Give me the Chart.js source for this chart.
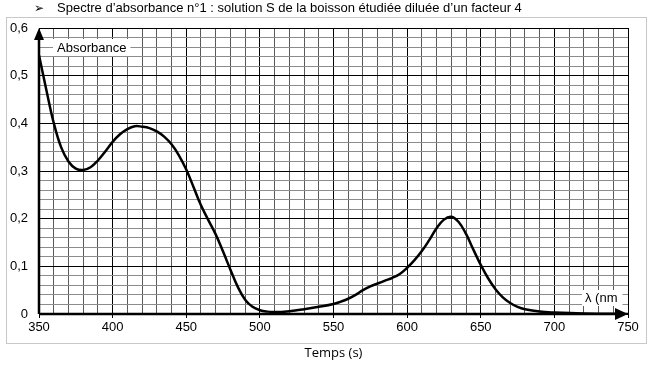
<!DOCTYPE html>
<html>
<head>
<meta charset="utf-8">
<script src="https://cdn.jsdelivr.net/npm/chart.js@4.4.0/dist/chart.umd.min.js"></script>
<style>
  body { margin: 0; background: #fff; }
  #wrap { position: relative; width: 651px; height: 370px; }
  #title {
    position: absolute; left: 34px; top: 0px; line-height: 15px;
    font: 13px "Liberation Sans", "DejaVu Sans", sans-serif; color: #000;
    white-space: nowrap;
  }
  #title .mark { display: inline-block; width: 23px; font-family: "DejaVu Sans", sans-serif; font-size: 12px; }
</style>
</head>
<body>
<div id="wrap">
  <canvas id="chart"></canvas>
  <div id="title"><span class="mark">&#10146;</span>Spectre d’absorbance n°1 : solution S de la boisson étudiée diluée d’un facteur 4</div>
</div>
<script>
// wavelength (nm) and absorbance
const wavelengths = [350, 355, 360, 365, 370, 375, 380, 385, 390, 395, 400, 405, 410, 415, 420, 425, 430, 435, 440, 445,
  450, 455, 460, 465, 470, 475, 480, 485, 490, 495, 500, 505, 510, 520, 530, 540, 550, 555, 560, 565,
  570, 575, 580, 585, 590, 595, 600, 605, 610, 615, 620, 625, 630, 635, 640, 645, 650, 655, 660, 665,
  670, 675, 680, 690, 700, 720, 750];
const absorbance = [0.543, 0.470, 0.401, 0.350, 0.320, 0.305, 0.302, 0.308, 0.322, 0.341, 0.361, 0.377, 0.388, 0.394, 0.393, 0.390, 0.383, 0.372, 0.356, 0.333,
  0.303, 0.266, 0.228, 0.197, 0.167, 0.131, 0.093, 0.057, 0.030, 0.015, 0.008, 0.005, 0.004, 0.006, 0.010, 0.015, 0.021, 0.026, 0.032, 0.040,
  0.050, 0.058, 0.064, 0.070, 0.076, 0.084, 0.097, 0.113, 0.132, 0.155, 0.180, 0.198, 0.204, 0.193, 0.168, 0.135, 0.103, 0.075, 0.052, 0.035,
  0.023, 0.015, 0.010, 0.005, 0.003, 0.001, 0.000];

const yLabel = 'Absorbance';
const xLabel = 'λ (nm';
const xAxisTitle = 'Temps (s)';

const points = wavelengths.map((w, i) => ({ x: w, y: absorbance[i] }));

const decorations = {
  id: 'decorations',
  beforeDraw(chart) {
    const ctx = chart.ctx;
    ctx.save();
    ctx.strokeStyle = '#c8c8c8';
    ctx.lineWidth = 1;
    ctx.strokeRect(6.5, 17.5, 640, 326);
    ctx.restore();
  },
  afterDraw(chart) {
    const ctx = chart.ctx;
    const a = chart.chartArea;
    ctx.save();
    // axes
    ctx.strokeStyle = '#000';
    ctx.fillStyle = '#000';
    ctx.lineWidth = 2.5;
    ctx.beginPath();
    ctx.moveTo(a.left, a.bottom);
    ctx.lineTo(a.left, a.top + 8);
    ctx.moveTo(a.left, a.bottom);
    ctx.lineTo(a.right - 10, a.bottom);
    ctx.stroke();
    // arrow heads
    ctx.beginPath();
    ctx.moveTo(a.left, a.top);
    ctx.lineTo(a.left - 5, a.top + 12);
    ctx.lineTo(a.left + 5, a.top + 12);
    ctx.closePath();
    ctx.fill();
    ctx.beginPath();
    ctx.moveTo(a.right, a.bottom);
    ctx.lineTo(a.right - 13, a.bottom - 6);
    ctx.lineTo(a.right - 13, a.bottom + 6);
    ctx.closePath();
    ctx.fill();
    // label boxes
    ctx.font = '13px "Liberation Sans", Arial, sans-serif';
    ctx.textBaseline = 'middle';
    ctx.fillStyle = '#fff';
    let w = ctx.measureText(yLabel).width;
    ctx.fillRect(a.left + 14, a.top + 11, w + 8, 17);
    ctx.fillStyle = '#000';
    ctx.fillText(yLabel, a.left + 18, a.top + 20);
    ctx.fillStyle = '#fff';
    w = ctx.measureText(xLabel).width;
    ctx.fillRect(a.right - 46, a.bottom - 24, w + 8, 16);
    ctx.fillStyle = '#000';
    ctx.fillText(xLabel, a.right - 43, a.bottom - 16);
    ctx.restore();
  }
};

new Chart(document.getElementById('chart'), {
  type: 'scatter',
  data: {
    datasets: [{
      data: points,
      showLine: true,
      borderColor: '#000',
      borderWidth: 2.5,
      pointRadius: 0,
      tension: 0.4
    }]
  },
  options: {
    responsive: true,
    maintainAspectRatio: false,
    animation: false,
    layout: { padding: { top: 28, right: 23, left: 0, bottom: 0 } },
    plugins: { legend: { display: false }, tooltip: { enabled: false } },
    scales: {
      x: {
        type: 'linear',
        min: 350,
        max: 750,
        afterFit: s => { s.height = 56; },
        border: { display: false },
        grid: {
          color: c => (c.tick && c.tick.value % 50 === 0) ? '#000' : '#5a5a5a',
          lineWidth: 1,
          tickLength: 4,
          tickColor: c => (c.tick && c.tick.value % 50 === 0) ? '#000' : 'rgba(0,0,0,0)'
        },
        ticks: {
          stepSize: 10,
          autoSkip: false,
          maxRotation: 0,
          padding: 2,
          color: '#000',
          font: { family: '"Liberation Sans", Arial, sans-serif', size: 13 },
          callback: v => (v % 50 === 0 ? String(v) : '')
        },
        title: {
          display: true,
          text: xAxisTitle,
          color: '#000',
          font: { family: '"Open Sans", sans-serif', size: 13 },
          padding: { top: 0, bottom: 9 }
        }
      },
      y: {
        min: 0,
        max: 0.6,
        afterFit: s => { s.width = 39; },
        border: { display: false },
        grid: {
          color: c => (c.tick && Math.round(c.tick.value * 100) % 10 === 0) ? '#000' : '#8c8c8c',
          lineWidth: 1,
          drawTicks: false
        },
        ticks: {
          stepSize: 0.02,
          autoSkip: false,
          padding: 11,
          color: '#000',
          font: { family: '"Liberation Sans", Arial, sans-serif', size: 13 },
          callback: v => {
            const n = Math.round(v * 100);
            if (n % 10 !== 0) return '';
            return n === 0 ? '0' : (n / 100).toFixed(1).replace('.', ',');
          }
        }
      }
    }
  },
  plugins: [decorations]
});
</script>
</body>
</html>
